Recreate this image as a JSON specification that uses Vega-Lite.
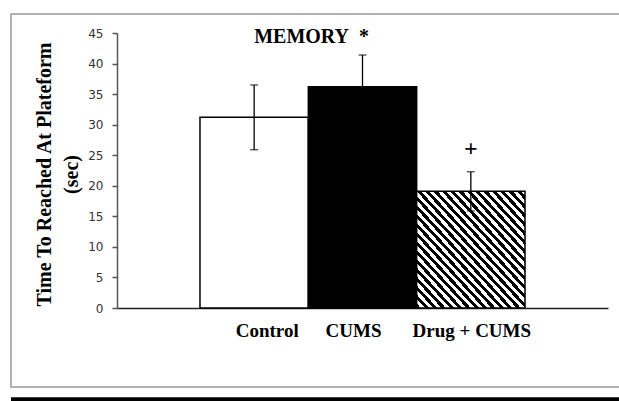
{
  "$schema": "https://vega.github.io/schema/vega-lite/v6.json",
  "width": 609,
  "height": 373,
  "autosize": {"type": "none"},
  "padding": {"left": 11, "top": 14, "right": 0, "bottom": 14},
  "background": "white",
  "config": {"view": {"stroke": "#999999", "strokeWidth": 1.5}},
  "datasets": {
    "bars": [
      {"group": "Control", "mean": 31.2, "lo": 25.9, "hi": 36.5},
      {"group": "CUMS", "mean": 36.2, "lo": 31.0, "hi": 41.4},
      {"group": "Drug + CUMS", "mean": 19.1, "lo": 15.9, "hi": 22.3}
    ],
    "title_note": [{"group": "Control", "y": 43.4, "text": "MEMORY\u00a0 *"}],
    "plus_note": [{"group": "Drug + CUMS", "y": 26.0, "text": "+"}],
    "edge": [{"y": -15.1}]
  },
  "layer": [
    {
      "data": {"name": "bars"},
      "mark": {"type": "bar", "stroke": "black", "strokeWidth": 1.5},
      "encoding": {
        "x": {
          "field": "group", "type": "nominal", "sort": null,
          "scale": {"domain": ["Control", "CUMS", "Drug + CUMS"], "range": [106, 597], "paddingInner": 0, "paddingOuter": 0.766},
          "axis": {
            "title": null, "orient": "bottom", "offset": -79, "ticks": false,
            "domainColor": "#222222", "domainWidth": 1.5,
            "labelFont": "Liberation Serif", "labelFontWeight": "bold", "labelFontSize": 19,
            "labelColor": "black", "labelPadding": 13, "labelAngle": 0,
            "labelOffset": {"expr": "datum.value === 'Control' ? 13 : datum.value === 'CUMS' ? -9 : 1"}
          }
        },
        "y": {
          "field": "mean", "type": "quantitative",
          "title": ["Time To Reached At Plateform", "(sec)"],
          "scale": {"domain": [0, 45], "range": [294, 19], "nice": false, "zero": false},
          "axis": {
            "values": [0, 5, 10, 15, 20, 25, 30, 35, 40, 45],
            "offset": -106, "grid": false, "tickSize": 5,
            "domainColor": "#555555", "domainWidth": 1.5, "tickColor": "#555555", "tickWidth": 1.5,
            "labelFont": "DejaVu Sans", "labelFontSize": 12, "labelColor": "#333333", "labelPadding": 9,
            "titleFont": "Liberation Serif", "titleFontSize": 20, "titleFontWeight": "bold", "titleColor": "black",
            "titleLineHeight": 27, "titleAngle": -90, "titleAlign": "center", "titleBaseline": "middle",
            "titleX": -73, "titleY": 160
          }
        },
        "fill": {
          "condition": [
            {"test": "datum.group === 'Control'", "value": "white"},
            {"test": "datum.group === 'CUMS'", "value": "black"}
          ],
          "value": {
            "gradient": "linear", "x1": 0, "y1": 1, "x2": 1, "y2": 0,
            "stops": [
              {"offset": 0, "color": "black"}, {"offset": 0.01923, "color": "black"}, {"offset": 0.01923, "color": "white"}, {"offset": 0.03846, "color": "white"},
              {"offset": 0.03846, "color": "black"}, {"offset": 0.05769, "color": "black"}, {"offset": 0.05769, "color": "white"}, {"offset": 0.07692, "color": "white"},
              {"offset": 0.07692, "color": "black"}, {"offset": 0.09615, "color": "black"}, {"offset": 0.09615, "color": "white"}, {"offset": 0.11538, "color": "white"},
              {"offset": 0.11538, "color": "black"}, {"offset": 0.13462, "color": "black"}, {"offset": 0.13462, "color": "white"}, {"offset": 0.15385, "color": "white"},
              {"offset": 0.15385, "color": "black"}, {"offset": 0.17308, "color": "black"}, {"offset": 0.17308, "color": "white"}, {"offset": 0.19231, "color": "white"},
              {"offset": 0.19231, "color": "black"}, {"offset": 0.21154, "color": "black"}, {"offset": 0.21154, "color": "white"}, {"offset": 0.23077, "color": "white"},
              {"offset": 0.23077, "color": "black"}, {"offset": 0.25, "color": "black"}, {"offset": 0.25, "color": "white"}, {"offset": 0.26923, "color": "white"},
              {"offset": 0.26923, "color": "black"}, {"offset": 0.28846, "color": "black"}, {"offset": 0.28846, "color": "white"}, {"offset": 0.30769, "color": "white"},
              {"offset": 0.30769, "color": "black"}, {"offset": 0.32692, "color": "black"}, {"offset": 0.32692, "color": "white"}, {"offset": 0.34615, "color": "white"},
              {"offset": 0.34615, "color": "black"}, {"offset": 0.36538, "color": "black"}, {"offset": 0.36538, "color": "white"}, {"offset": 0.38462, "color": "white"},
              {"offset": 0.38462, "color": "black"}, {"offset": 0.40385, "color": "black"}, {"offset": 0.40385, "color": "white"}, {"offset": 0.42308, "color": "white"},
              {"offset": 0.42308, "color": "black"}, {"offset": 0.44231, "color": "black"}, {"offset": 0.44231, "color": "white"}, {"offset": 0.46154, "color": "white"},
              {"offset": 0.46154, "color": "black"}, {"offset": 0.48077, "color": "black"}, {"offset": 0.48077, "color": "white"}, {"offset": 0.5, "color": "white"},
              {"offset": 0.5, "color": "black"}, {"offset": 0.51923, "color": "black"}, {"offset": 0.51923, "color": "white"}, {"offset": 0.53846, "color": "white"},
              {"offset": 0.53846, "color": "black"}, {"offset": 0.55769, "color": "black"}, {"offset": 0.55769, "color": "white"}, {"offset": 0.57692, "color": "white"},
              {"offset": 0.57692, "color": "black"}, {"offset": 0.59615, "color": "black"}, {"offset": 0.59615, "color": "white"}, {"offset": 0.61538, "color": "white"},
              {"offset": 0.61538, "color": "black"}, {"offset": 0.63462, "color": "black"}, {"offset": 0.63462, "color": "white"}, {"offset": 0.65385, "color": "white"},
              {"offset": 0.65385, "color": "black"}, {"offset": 0.67308, "color": "black"}, {"offset": 0.67308, "color": "white"}, {"offset": 0.69231, "color": "white"},
              {"offset": 0.69231, "color": "black"}, {"offset": 0.71154, "color": "black"}, {"offset": 0.71154, "color": "white"}, {"offset": 0.73077, "color": "white"},
              {"offset": 0.73077, "color": "black"}, {"offset": 0.75, "color": "black"}, {"offset": 0.75, "color": "white"}, {"offset": 0.76923, "color": "white"},
              {"offset": 0.76923, "color": "black"}, {"offset": 0.78846, "color": "black"}, {"offset": 0.78846, "color": "white"}, {"offset": 0.80769, "color": "white"},
              {"offset": 0.80769, "color": "black"}, {"offset": 0.82692, "color": "black"}, {"offset": 0.82692, "color": "white"}, {"offset": 0.84615, "color": "white"},
              {"offset": 0.84615, "color": "black"}, {"offset": 0.86538, "color": "black"}, {"offset": 0.86538, "color": "white"}, {"offset": 0.88462, "color": "white"},
              {"offset": 0.88462, "color": "black"}, {"offset": 0.90385, "color": "black"}, {"offset": 0.90385, "color": "white"}, {"offset": 0.92308, "color": "white"},
              {"offset": 0.92308, "color": "black"}, {"offset": 0.94231, "color": "black"}, {"offset": 0.94231, "color": "white"}, {"offset": 0.96154, "color": "white"},
              {"offset": 0.96154, "color": "black"}, {"offset": 0.98077, "color": "black"}, {"offset": 0.98077, "color": "white"}, {"offset": 1, "color": "white"}
            ]
          }
        }
      }
    },
    {
      "data": {"name": "bars"},
      "mark": {"type": "rule", "color": "black", "strokeWidth": 1.3},
      "encoding": {
        "x": {"field": "group", "type": "nominal", "sort": null},
        "y": {"field": "lo", "type": "quantitative"},
        "y2": {"field": "hi"}
      }
    },
    {
      "data": {"name": "bars"},
      "mark": {"type": "tick", "color": "black", "thickness": 1.3, "size": 8},
      "encoding": {
        "x": {"field": "group", "type": "nominal", "sort": null},
        "y": {"field": "hi", "type": "quantitative"}
      }
    },
    {
      "data": {"name": "bars"},
      "mark": {"type": "tick", "color": "black", "thickness": 1.3, "size": 8},
      "encoding": {
        "x": {"field": "group", "type": "nominal", "sort": null},
        "y": {"field": "lo", "type": "quantitative"}
      }
    },
    {
      "data": {"name": "title_note"},
      "mark": {"type": "text", "font": "Liberation Serif", "fontWeight": "bold", "fontSize": 20, "color": "black", "align": "left", "baseline": "alphabetic"},
      "encoding": {
        "x": {"field": "group", "type": "nominal", "sort": null},
        "y": {"field": "y", "type": "quantitative"},
        "text": {"field": "text"}
      }
    },
    {
      "data": {"name": "plus_note"},
      "mark": {"type": "text", "font": "Liberation Serif", "fontWeight": "bold", "fontSize": 24, "color": "black", "align": "center", "baseline": "middle"},
      "encoding": {
        "x": {"field": "group", "type": "nominal", "sort": null},
        "y": {"field": "y", "type": "quantitative"},
        "text": {"field": "text"}
      }
    },
    {
      "data": {"name": "edge"},
      "mark": {"type": "rule", "color": "black", "strokeWidth": 6},
      "encoding": {
        "y": {"field": "y", "type": "quantitative"}
      }
    }
  ]
}
